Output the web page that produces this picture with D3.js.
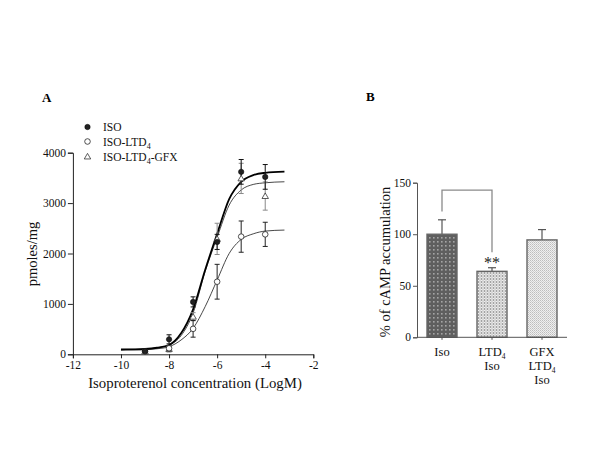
<!DOCTYPE html>
<html><head><meta charset="utf-8">
<script src="https://cdn.jsdelivr.net/npm/d3@7"></script>
<style>
html,body{margin:0;padding:0;background:#fff;}
svg{display:block;font-family:"Liberation Serif","Times New Roman",serif;}
</style></head>
<body>
<svg id="c" width="600" height="450"></svg>
<script>
// ---------- Panel A data ----------
const concX = [-9, -8, -7, -6, -5, -4];
const isoVals = [65, 297, 1040, 2230, 3620, 3520];
const isoErr  = [10, 90, 100, 150, 245, 245];
const ltdVals = [60, 120, 505, 1440, 2335, 2380];
const ltdErr  = [10, 40, 165, 345, 310, 240];
const gfxVals = [60, 105, 746, 2290, 3490, 3140];
const gfxErr  = [10, 60, 80, 310, 300, 280];
// fitted curves
const fitX   = [-10, -9.5, -9, -8.5, -8, -7.5, -7, -6.5, -6, -5.5, -5, -4.5, -4, -3.2];
const isoFit = [95, 98, 105, 130, 185, 416, 892, 1672, 2390, 3080, 3423, 3555, 3601, 3625];
const ltdFit = [85, 88, 95, 110, 151, 284, 515, 944, 1473, 2000, 2280, 2390, 2445, 2465];
const gfxFit = [95, 98, 104, 128, 180, 370, 820, 1640, 2320, 2960, 3260, 3370, 3403, 3423];
const xTicksA = [-12, -10, -8, -6, -4, -2];
const yTicksA = [0, 1000, 2000, 3000, 4000];
// ---------- Panel B data ----------
const barCats = ["Iso", "LTD4 Iso", "GFX LTD4 Iso"];
const barVals = [100, 64, 94.5];
const barErr  = [14, 3.5, 10];
const yTicksB = [0, 50, 100, 150];

const svg = d3.select("#c");
const defs = svg.append("defs");

// ===== Panel A =====
const xA = d3.scaleLinear().domain([-12, -2]).range([72.9, 313.3]);
const yA = d3.scaleLinear().domain([0, 4000]).range([354.3, 152.7]);
const axCol = "#222";

const gxA = svg.append("g").attr("transform", `translate(0,${yA(0)})`)
  .call(d3.axisBottom(xA).tickValues(xTicksA).tickSize(4).tickPadding(3).tickFormat(d => String(d).replace("\u2212", "-")));
const gyA = svg.append("g").attr("transform", `translate(${xA(-12)},0)`)
  .call(d3.axisLeft(yA).tickValues(yTicksA).tickSize(5).tickPadding(2).tickFormat(d => String(d)));
[gxA, gyA].forEach(g => {
  g.select(".domain").attr("stroke", axCol).attr("stroke-width", 1);
  g.selectAll(".tick line").attr("stroke", axCol);
  g.selectAll("text").attr("font-family", "Liberation Serif, serif").attr("font-size", 11.5).attr("fill", "#111");
});

const line = d3.line().x(d => xA(d[0])).y(d => yA(d[1])).curve(d3.curveMonotoneX);
const fits = [
  {v: ltdFit, w: 0.9, c: "#333"},
  {v: gfxFit, w: 0.9, c: "#333"},
  {v: isoFit, w: 1.8, c: "#000"}
];
fits.forEach(f => {
  svg.append("path").datum(fitX.map((x, i) => [x, f.v[i]]))
    .attr("d", line).attr("fill", "none").attr("stroke", f.c).attr("stroke-width", f.w);
});

function errBars(vals, errs, col) {
  const g = svg.append("g").attr("stroke", col).attr("stroke-width", 1);
  concX.forEach((x, i) => {
    const cx = xA(x), y1 = yA(vals[i] - errs[i]), y2 = yA(vals[i] + errs[i]);
    g.append("line").attr("x1", cx).attr("x2", cx).attr("y1", y1).attr("y2", y2);
    g.append("line").attr("x1", cx - 2.5).attr("x2", cx + 2.5).attr("y1", y1).attr("y2", y1);
    g.append("line").attr("x1", cx - 2.5).attr("x2", cx + 2.5).attr("y1", y2).attr("y2", y2);
  });
}
errBars(gfxVals, gfxErr, "#8a8a8a");
errBars(ltdVals, ltdErr, "#222");
errBars(isoVals, isoErr, "#111");

const tri = d3.symbol().type(d3.symbolTriangle).size(18);
function markers(vals, kind) {
  concX.forEach((x, i) => drawMarker(xA(x), yA(vals[i]), kind));
}
function drawMarker(cx, cy, kind) {
  if (kind === "filled") {
    svg.append("circle").attr("cx", cx).attr("cy", cy).attr("r", 2.7).attr("fill", "#222").attr("stroke", "#000").attr("stroke-width", 0.5);
  } else if (kind === "open") {
    svg.append("circle").attr("cx", cx).attr("cy", cy).attr("r", 2.8).attr("fill", "#fff").attr("stroke", "#222").attr("stroke-width", 0.8);
  } else {
    svg.append("path").attr("d", tri).attr("transform", `translate(${cx},${cy + 0.6})`).attr("fill", "#fff").attr("stroke", "#333").attr("stroke-width", 0.8);
  }
}
markers(gfxVals, "tri");
markers(ltdVals, "open");
markers(isoVals, "filled");

// legend
const legItems = [
  {kind: "filled", main: "ISO", sub: null, tail: ""},
  {kind: "open", main: "ISO-LTD", sub: "4", tail: ""},
  {kind: "tri", main: "ISO-LTD", sub: "4", tail: "-GFX"}
];
const legY = [127, 141.5, 156.5];
legItems.forEach((it, i) => {
  drawMarker(87.5, legY[i], it.kind);
  const t = svg.append("text").attr("x", 103).attr("y", legY[i] + 4)
    .attr("font-size", 11.5).attr("fill", "#111").text(it.main);
  if (it.sub) {
    t.append("tspan").attr("font-size", 8).attr("dy", 3).text(it.sub);
    if (it.tail) t.append("tspan").attr("dy", -3).text(it.tail);
  }
});

// titles A
svg.append("text").attr("x", 42).attr("y", 102).attr("font-size", 13).attr("font-weight", "bold").text("A");
svg.append("text").attr("transform", `translate(37,254) rotate(-90)`).attr("text-anchor", "middle")
  .attr("font-size", 14.5).attr("fill", "#111").text("pmoles/mg");
svg.append("text").attr("x", 195).attr("y", 388).attr("text-anchor", "middle")
  .attr("font-size", 14.8).attr("fill", "#111").text("Isoproterenol concentration (LogM)");

// ===== Panel B =====
// patterns
const p1 = defs.append("pattern").attr("id", "pIso").attr("patternUnits", "userSpaceOnUse").attr("width", 4).attr("height", 4);
p1.append("rect").attr("width", 4).attr("height", 4).attr("fill", "#5f5f5f");
p1.append("rect").attr("x", 1).attr("y", 1).attr("width", 1.6).attr("height", 1.6).attr("fill", "#a5a5a5");
const p2 = defs.append("pattern").attr("id", "pLtd").attr("patternUnits", "userSpaceOnUse").attr("width", 3).attr("height", 3);
p2.append("rect").attr("width", 3).attr("height", 3).attr("fill", "#d6d6d6");
p2.append("rect").attr("x", 1).attr("y", 0).attr("width", 1).attr("height", 3).attr("fill", "#a3a3a3");
p2.append("rect").attr("x", 1).attr("y", 1).attr("width", 1).attr("height", 1).attr("fill", "#f0f0f0");
const p3 = defs.append("pattern").attr("id", "pGfx").attr("patternUnits", "userSpaceOnUse").attr("width", 2).attr("height", 2);
p3.append("rect").attr("width", 2).attr("height", 2).attr("fill", "#efefef");
p3.append("rect").attr("x", 0).attr("y", 0).attr("width", 1).attr("height", 1).attr("fill", "#bdbdbd");
p3.append("rect").attr("x", 1).attr("y", 1).attr("width", 1).attr("height", 1).attr("fill", "#cfcfcf");
const fills = ["url(#pIso)", "url(#pLtd)", "url(#pGfx)"];

const xB = d3.scaleBand().domain(barCats).range([417, 567]).paddingInner(0.4).paddingOuter(0.2);
const yB = d3.scaleLinear().domain([0, 150]).range([337.3, 182.7]);
const bCol = "#555";

// error bars B (upward)
barCats.forEach((c, i) => {
  const cx = xB(c) + xB.bandwidth() / 2;
  svg.append("line").attr("x1", cx).attr("x2", cx).attr("y1", yB(barVals[i])).attr("y2", yB(barVals[i] + barErr[i]))
    .attr("stroke", "#555").attr("stroke-width", 1.2);
  svg.append("line").attr("x1", cx - 4).attr("x2", cx + 4).attr("y1", yB(barVals[i] + barErr[i])).attr("y2", yB(barVals[i] + barErr[i]))
    .attr("stroke", "#555").attr("stroke-width", 1.2);
});
svg.selectAll("rect.bar").data(barCats).enter().append("rect").attr("class", "bar")
  .attr("x", d => xB(d)).attr("width", xB.bandwidth())
  .attr("y", (d, i) => yB(barVals[i])).attr("height", (d, i) => yB(0) - yB(barVals[i]))
  .attr("fill", (d, i) => fills[i]).attr("stroke", "#666").attr("stroke-width", 1.4);

const gyB = svg.append("g").attr("transform", `translate(417,0)`)
  .call(d3.axisLeft(yB).tickValues(yTicksB).tickSize(4).tickPadding(2).tickFormat(d => String(d)));
gyB.select(".domain").attr("stroke", bCol);
gyB.selectAll(".tick line").attr("stroke", bCol);
gyB.selectAll("text").attr("font-family", "Liberation Serif, serif").attr("font-size", 11.5).attr("fill", "#111");
svg.append("line").attr("x1", 417).attr("x2", 567).attr("y1", yB(0)).attr("y2", yB(0)).attr("stroke", bCol).attr("stroke-width", 1);
barCats.forEach(c => {
  const cx = xB(c) + xB.bandwidth() / 2;
  svg.append("line").attr("x1", cx).attr("x2", cx).attr("y1", yB(0)).attr("y2", yB(0) + 2.5).attr("stroke", bCol);
});

// category labels
const labRows = [["Iso"], ["LTD|4", "Iso"], ["GFX", "LTD|4", "Iso"]];
barCats.forEach((c, i) => {
  const cx = xB(c) + xB.bandwidth() / 2;
  labRows[i].forEach((r, j) => {
    const parts = r.split("|");
    const t = svg.append("text").attr("x", cx).attr("y", 356 + j * 14).attr("text-anchor", "middle")
      .attr("font-size", 12.5).attr("fill", "#111").text(parts[0]);
    if (parts[1]) t.append("tspan").attr("font-size", 7.5).attr("dy", 3).text(parts[1]);
  });
});

// significance bracket
const c0 = xB(barCats[0]) + xB.bandwidth() / 2, c1 = xB(barCats[1]) + xB.bandwidth() / 2;
svg.append("path").attr("d", `M${c0},${yB(122)}V${yB(142.7)}H${c1}V${yB(82.5)}`)
  .attr("fill", "none").attr("stroke", "#8a8a8a").attr("stroke-width", 1.3);
svg.append("text").attr("x", c1).attr("y", 268).attr("text-anchor", "middle").attr("font-size", 16).attr("fill", "#222").text("**");

svg.append("text").attr("x", 366).attr("y", 101).attr("font-size", 13).attr("font-weight", "bold").text("B");
svg.append("text").attr("transform", `translate(390,262) rotate(-90)`).attr("text-anchor", "middle")
  .attr("font-size", 14.5).attr("fill", "#111").text("% of cAMP accumulation");
</script>
</body></html>
